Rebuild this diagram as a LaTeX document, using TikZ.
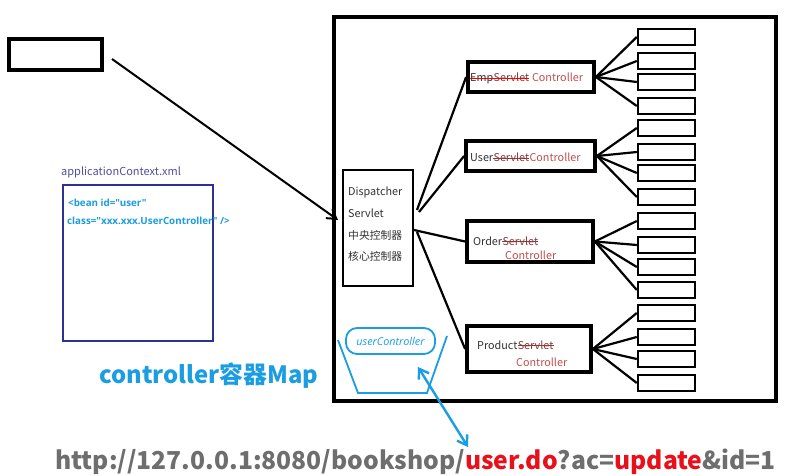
\documentclass[tikz,border=0pt]{standalone}
\usepackage{fontspec}
\setmainfont{Noto Sans CJK SC}
\newfontfamily\latit{Open Sans}
\usetikzlibrary{arrows.meta,calc}
\definecolor{ctrlred}{HTML}{C0504D}
\definecolor{servred}{HTML}{8B3A3A}
\definecolor{dgray}{HTML}{333333}
\definecolor{cblue}{HTML}{1B9DE2}
\definecolor{xmlblue}{HTML}{2E3192}
\definecolor{xmllab}{HTML}{4F4F9F}
\definecolor{urlgray}{HTML}{6E6E6E}
\definecolor{urlred}{HTML}{E8101A}
\begin{document}
\begin{tikzpicture}[x=1pt,y=-1pt,
  thickbox/.style={draw,line width=3.8pt,inner sep=0pt},
  sbox/.style={draw,line width=2.4pt,minimum width=57pt,minimum height=16pt,inner sep=0pt},
  conn/.style={line width=2.2pt},
  ct/.style={font=\fontsize{10.8}{12}\selectfont,text=dgray,anchor=base west,inner sep=0pt},
  dtxt/.style={font=\fontsize{10.8}{12}\selectfont,text=dgray,anchor=west,inner sep=0pt},
  strike/.style={line width=0.9pt},
  bucket/.style={draw=cblue,line width=1.8pt}]
\useasboundingbox (0,0) rectangle (790,476);
\fill[white] (0,0) rectangle (790,476);

% top-left client box
\node[thickbox,minimum width=93.5pt,minimum height=31.5pt] (client) at (55.5,54.5) {};
% big container
\node[thickbox,minimum width=442.5pt,minimum height=384.5pt] (cont) at (555,209) {};
% dispatcher
\node[draw,line width=2.2pt,minimum width=70pt,minimum height=116pt,inner sep=0pt] (disp) at (378,228) {};
\node[dtxt] (d1) at (348,192) {Dispatcher};
\node[dtxt] (d2) at (348,213) {Servlet};
\node[dtxt] (d3) at (348,235) {中央控制器};
\node[dtxt] (d4) at (348,256) {核心控制器};

% controllers
\node[thickbox,minimum width=126pt,minimum height=30pt] (emp) at (531,77) {};
\node[thickbox,minimum width=129pt,minimum height=30pt] (usr) at (530.5,156) {};
\node[thickbox,minimum width=126pt,minimum height=41pt] (ord) at (530,241.5) {};
\node[thickbox,minimum width=124pt,minimum height=46pt] (prd) at (529,349) {};

% controller labels
\node[ct] (ea) at (470,82) {Emp};
\node[ct,text=servred] (eb) at (ea.base east) {Servlet};
\node[ct,text=ctrlred] (ec) at (eb.base east) {\ Controller};
\draw[strike,red] ($(ea.base west)+(0,-3.6)$) -- ($(eb.base east)+(0,-3.6)$);

\node[ct] (ua) at (470,162) {User};
\node[ct,text=servred] (ub) at (ua.base east) {Servlet};
\node[ct,text=ctrlred] (uc2) at (ub.base east) {Controller};
\draw[strike,servred] ($(ub.base west)+(0,-3.6)$) -- ($(ub.base east)+(0,-3.6)$);

\node[ct] (oa) at (473,245) {Order};
\node[ct,text=servred] (ob) at (oa.base east) {Servlet};
\node[ct,text=ctrlred] (oc) at (505,259) {Controller};
\draw[strike,servred] ($(ob.base west)+(0,-3.6)$) -- ($(ob.base east)+(0,-3.6)$);

\node[ct] (pa) at (477,349) {Product};
\node[ct,text=servred] (pb) at (pa.base east) {Servlet};
\node[ct,text=ctrlred] (pc) at (516,366) {Controller};
\draw[strike,servred] ($(pb.base west)+(0,-3.6)$) -- ($(pb.base east)+(0,-3.6)$);

% small boxes on the right
\foreach \y [count=\i] in {37,61,82,106,128,152,173,197,221,245,267,290,313,337,359,383}
  \node[sbox] (b\i) at (666.5,\y) {};

\foreach \c/\a in {emp/1,usr/5,ord/9,prd/13}{
  \foreach \k in {0,...,3}{
    \pgfmathtruncatemacro\n{\a+\k}
    \draw[conn] (\c.east) -- (b\n.west);
  }
}

% dispatcher to controllers
\coordinate (o1) at (417,210);
\coordinate (o2) at (419,212);
\coordinate (o3) at (414,230);
\coordinate (o4) at (417,232);
\draw[conn] (o1) -- (emp.west);
\draw[conn] (o2) -- (usr.west);
\draw[conn] (o3) -- (ord.west);
\draw[conn] (o4) -- (prd.west);

% client to dispatcher
\coordinate (a1) at (112,59);
\coordinate (a2) at (338,220);
\draw[line width=2pt,-{Straight Barb[length=9pt,width=11pt]}] (a1) -- (a2);

% applicationContext.xml
\node[anchor=west,inner sep=0pt,text=xmllab,font=\fontsize{11}{12}\selectfont] (xlab) at (61,172) {applicationContext.xml};
\node[draw=xmlblue,line width=2.2pt,minimum width=150pt,minimum height=156pt,inner sep=0pt] (xbox) at (138,263) {};
\node[anchor=west,inner sep=0pt,text=cblue,font=\latit\bfseries\fontsize{9.8}{11}\selectfont] (x1) at (68,203) {<bean id="user"};
\node[anchor=west,inner sep=0pt,text=cblue,font=\latit\bfseries\fontsize{9.8}{11}\selectfont] (x2) at (67,221) {class="xxx.xxx.UserController" />};

\node[anchor=west,inner sep=0pt,text=cblue,font=\fontsize{23.8}{28}\selectfont\bfseries] (map) at (99,376) {controller容器Map};

% bucket
\node[bucket,rounded corners=11pt,minimum width=89pt,minimum height=26pt,inner sep=0pt,font=\latit\itshape\fontsize{10.8}{12}\selectfont,text=cblue] (uc) at (390.5,341) {userController};
\coordinate (t1) at (338,340);
\coordinate (t2) at (358,393);
\coordinate (t3) at (427,393);
\coordinate (t4) at (447,336);
\draw[bucket] (t1) -- (t2) -- (t3) -- (t4);

% blue double arrow
\coordinate (u1) at (418,367);
\coordinate (u2) at (468,447);
\draw[cblue,line width=2.4pt,{Straight Barb[length=9pt,width=12pt]}-{Straight Barb[length=9pt,width=12pt]}] (u1) -- (u2);

% URL
\node[anchor=west,inner sep=0pt,font=\fontsize{24.7}{28}\selectfont\bfseries,text=urlgray] (url) at (55,462)
  {http://127.0.0.1:8080/bookshop/\textcolor{urlred}{user.do}?ac=\textcolor{urlred}{update}\&id=1};
\end{tikzpicture}
\end{document}
